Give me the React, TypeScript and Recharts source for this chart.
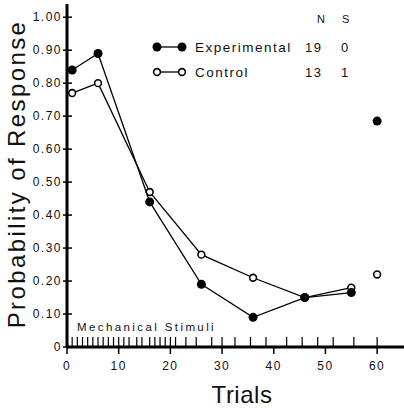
import { ComposedChart, Scatter, XAxis, YAxis, Customized } from "recharts";

const trials = [1, 6, 16, 26, 36, 46, 55];
const experimental = [0.84, 0.89, 0.44, 0.19, 0.09, 0.15, 0.165];
const control = [0.77, 0.8, 0.47, 0.28, 0.21, 0.15, 0.18];

// retention test at trial 60, not joined to the curves
const retentionTrial = 60;
const experimentalRetention = 0.685;
const controlRetention = 0.22;

// trials on which the mechanical stimulus was given
const stimuli = [1, 2, 3, 4, 5, 6, 7, 8, 9, 10, 11, 12, 13.5, 14.5, 16, 17, 18, 19, 20, 21, 23, 25, 28, 30, 32.5, 35.5, 38.5, 42.5, 45.5, 48.5, 51.5, 55.5, 60];

const xTicks = [0, 10, 20, 30, 40, 50, 60];
const yTicks = [0, 0.1, 0.2, 0.3, 0.4, 0.5, 0.6, 0.7, 0.8, 0.9, 1.0];

const legendRows = [
  { name: "Experimental", n: "19", s: "0", filled: true },
  { name: "Control", n: "13", s: "1", filled: false },
];

const FONT = "'Liberation Sans', Arial, sans-serif";

const expData = trials.map((t, i) => ({ x: t, y: experimental[i] }));
const ctrlData = trials.map((t, i) => ({ x: t, y: control[i] }));
const expRet = [{ x: retentionTrial, y: experimentalRetention }];
const ctrlRet = [{ x: retentionTrial, y: controlRetention }];
const stimData = stimuli.map((t) => ({ x: t, y: 0 }));

const FilledDot = (p: any) => <circle cx={p.cx} cy={p.cy} r={4.5} fill="#000" />;
const OpenDot = (p: any) => (
  <circle cx={p.cx} cy={p.cy} r={3.4} fill="#fff" stroke="#000" strokeWidth={1.6} />
);
const StimTick = (p: any) => (
  <line x1={p.cx} x2={p.cx} y1={p.cy} y2={p.cy - 10} stroke="#000" strokeWidth={1.2} />
);

const YTick = (p: any) => {
  const v = p.payload.value;
  return (
    <g>
      <line x1={p.x} x2={p.x + 9} y1={p.y} y2={p.y} stroke="#000" strokeWidth={1.5} />
      <text x={p.x - 1} y={p.y} dy="0.35em" textAnchor="end" fontSize={12} fontFamily={FONT} letterSpacing={1.5} fill="#111">
        {v === 0 ? "0" : v.toFixed(2)}
      </text>
    </g>
  );
};

const Notes = () => (
  <g fontFamily={FONT} fill="#111">
    <text x={317} y={23} fontSize={11}>N</text>
    <text x={342} y={23} fontSize={11}>S</text>
    {legendRows.map((r, i) => {
      const y = 47 + i * 25;
      return (
        <g key={r.name}>
          <line x1={155} x2={183} y1={y} y2={y} stroke="#000" strokeWidth={1.3} />
          {r.filled ? (
            <>
              <circle cx={157} cy={y} r={4.5} fill="#000" />
              <circle cx={182} cy={y} r={4.5} fill="#000" />
            </>
          ) : (
            <>
              <circle cx={157} cy={y} r={3.4} fill="#fff" stroke="#000" strokeWidth={1.6} />
              <circle cx={182} cy={y} r={3.4} fill="#fff" stroke="#000" strokeWidth={1.6} />
            </>
          )}
          <text x={195} y={y} dy="0.35em" fontSize={13.5} letterSpacing={1.5}>{r.name}</text>
          <text x={305} y={y} dy="0.35em" fontSize={13} letterSpacing={1.5}>{r.n}</text>
          <text x={341} y={y} dy="0.35em" fontSize={13}>{r.s}</text>
        </g>
      );
    })}
    <text x={77} y={331} fontSize={11.5} letterSpacing={2.4}>Mechanical Stimuli</text>
  </g>
);

export default function App() {
  return (
    <div style={{ position: "absolute", left: 0, top: 0, width: 404, height: 408, background: "#fff" }}>
      <ComposedChart width={404} height={408} margin={{ top: 4, right: 0, bottom: 0, left: 0 }}>
        <XAxis
          type="number"
          dataKey="x"
          domain={[0, 65.2]}
          ticks={xTicks}
          allowDataOverflow
          height={61}
          tickSize={7}
          tickMargin={7}
          axisLine={{ stroke: "#000", strokeWidth: 3 }}
          tickLine={{ stroke: "#000", strokeWidth: 1.5 }}
          tick={{ fill: "#111", fontSize: 12, fontFamily: FONT, letterSpacing: 1.5 }}
          label={{
            content: () => (
              <text x={242} y={403} textAnchor="middle" fontSize={24} fontFamily={FONT} letterSpacing={0.5} fill="#111">
                Trials
              </text>
            ),
          }}
        />
        <YAxis
          type="number"
          dataKey="y"
          domain={[0, 1.04]}
          ticks={yTicks}
          allowDataOverflow
          width={67}
          tickSize={4}
          tickMargin={0}
          axisLine={{ stroke: "#000", strokeWidth: 3 }}
          tickLine={false}
          tick={<YTick />}
          label={{
            content: () => (
              <text
                x={25}
                y={174}
                transform="rotate(-90 25 174)"
                textAnchor="middle"
                fontSize={24}
                fontFamily={FONT}
                letterSpacing={2.4}
                fill="#111"
              >
                Probability of Response
              </text>
            ),
          }}
        />
        <Scatter data={stimData} shape={<StimTick />} isAnimationActive={false} />
        <Scatter
          data={ctrlData}
          line={{ stroke: "#000", strokeWidth: 1.3 }}
          shape={<OpenDot />}
          isAnimationActive={false}
        />
        <Scatter
          data={expData}
          line={{ stroke: "#000", strokeWidth: 1.3 }}
          shape={<FilledDot />}
          isAnimationActive={false}
        />
        <Scatter data={expRet} shape={<FilledDot />} isAnimationActive={false} />
        <Scatter data={ctrlRet} shape={<OpenDot />} isAnimationActive={false} />
        <Customized component={<Notes />} />
      </ComposedChart>
    </div>
  );
}
